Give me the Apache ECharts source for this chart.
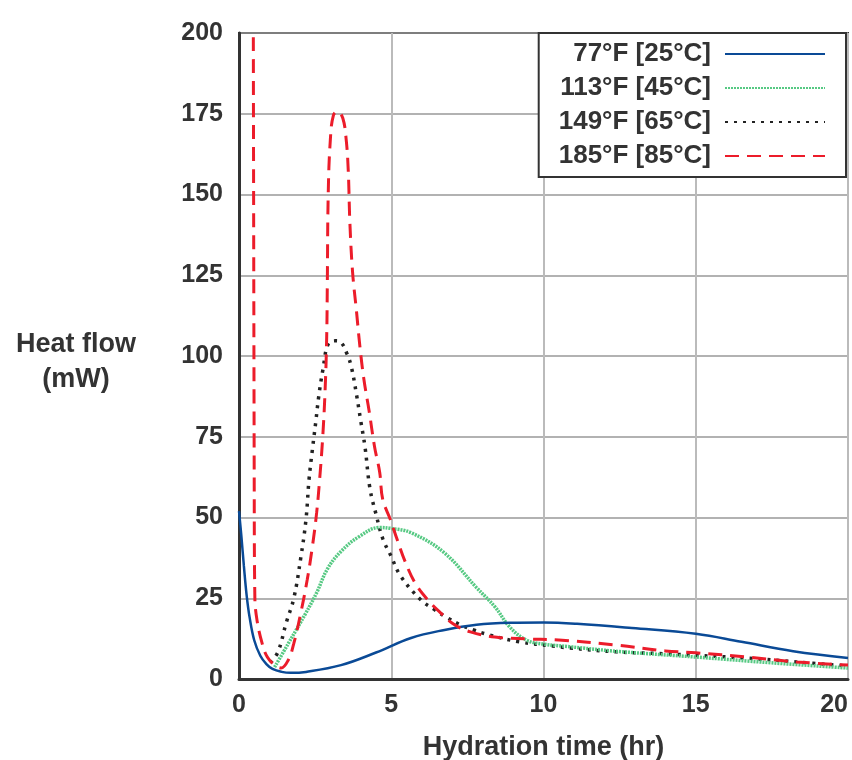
<!DOCTYPE html>
<html>
<head>
<meta charset="utf-8">
<script src="https://cdn.jsdelivr.net/npm/echarts@6/dist/echarts.min.js"></script>
<style>
html,body{margin:0;padding:0;background:#fff;}
#chart{width:852px;height:760px;}
</style>
</head>
<body>
<div id="chart"></div>
<script>
var seriesNames = ['77°F [25°C]', '113°F [45°C]', '149°F [65°C]', '185°F [85°C]'];
var xTicks = [0, 5, 10, 15, 20];
var yTicks = [0, 25, 50, 75, 100, 125, 150, 175, 200];

var s25 = [[0,52],[0.08,44],[0.16,35],[0.25,26],[0.35,19],[0.5,12],[0.7,7.2],[0.9,4.6],[1.1,3.1],[1.4,2.2],[1.7,1.9],[2.2,2.2],[3.35,4.3],[4.5,8.2],[5.65,12.7],[6.75,15.2],[7.8,16.8],[8.9,17.4],[10,17.5],[11.1,17.1],[12.9,15.8],[15,14],[16.5,11.5],[18.2,8.6],[20,6.5]];
var s45 = [[1.17,3.7],[1.62,11],[2.2,20.5],[2.55,26.7],[2.9,34],[3.35,39.5],[3.93,44],[4.62,46.9],[5,46.6],[5.65,45.3],[6.75,39],[7.8,28.3],[8.4,22.4],[8.9,16],[9.45,12],[10,10.8],[10.85,10],[12.5,8.5],[15,6.8],[17.5,5],[20,3.4]];
var s65 = [[1.03,5],[1.28,8.4],[1.55,17.4],[1.8,25],[2.03,37.6],[2.2,49.4],[2.3,61.8],[2.41,71],[2.52,79.5],[2.62,87.6],[2.76,96],[2.93,103.7],[3.17,104.7],[3.34,104.3],[3.55,100.6],[3.69,96.6],[3.86,88],[4.0,79.8],[4.14,71.7],[4.3,59],[4.5,51],[4.72,43.5],[5.0,37.9],[5.3,32],[5.97,24.5],[6.43,21.4],[6.85,18.9],[7.27,16.8],[7.7,15.2],[8.2,13.7],[9.2,11.5],[10.3,10.2],[10.85,9.6],[12.4,8.4],[14,7.8],[16.6,6.5],[18.3,5.3],[20,4]];
var s85 = [[0.46,260],[0.5,60],[0.52,25.5],[0.59,18.3],[0.76,11],[0.93,6.8],[1.17,4.3],[1.38,3.4],[1.62,5.9],[1.8,11],[2.03,20.5],[2.24,30.7],[2.41,41],[2.55,51.5],[2.65,62],[2.75,75],[2.83,90],[2.88,106],[2.9,122],[2.93,150],[3.0,167],[3.1,174.5],[3.24,175.7],[3.41,173.6],[3.52,167],[3.59,157],[3.64,141.6],[3.73,126],[3.86,113.7],[3.97,103],[4.1,92.9],[4.28,82.6],[4.45,72],[4.62,64],[4.72,55.6],[4.97,49.4],[5.2,43],[5.45,36.5],[5.78,29.8],[6.2,24.5],[6.62,20.5],[7.08,16.8],[7.6,14.6],[8.4,13],[9.45,12.4],[10.5,12.1],[12.4,10.5],[14,8.7],[15,8.1],[16.7,6.8],[18.3,5.3],[20,4.3]];

var FONT = '"Liberation Sans", Arial, sans-serif';
var TXT = '#333';

var chart = echarts.init(document.getElementById('chart'), null, {renderer: 'canvas'});

function mkSeries(name, data, color, width, type, z) {
  return {
    name: name, type: 'line', data: data, smooth: 0.4,
    symbol: 'none', showSymbol: false, clip: true, z: z,
    lineStyle: {color: color, width: width, type: type, cap: 'butt'},
    itemStyle: {color: color},
    animation: false
  };
}

var option = {
  animation: false,
  backgroundColor: '#fff',
  grid: {left: 239, right: 4, top: 33, bottom: 81, show: true, borderColor: '#333', borderWidth: 2, backgroundColor: 'transparent', containLabel: false, outerBoundsMode: 'none'},
  xAxis: {
    type: 'value', min: xTicks[0], max: xTicks[xTicks.length - 1], interval: 5,
    name: 'Hydration time (hr)', nameLocation: 'middle', nameGap: 55,
    nameTextStyle: {fontFamily: FONT, fontSize: 27, fontWeight: 'bold', color: TXT},
    axisLine: {show: true, lineStyle: {color: '#333', width: 3}},
    axisTick: {show: false},
    axisLabel: {fontFamily: FONT, fontSize: 25, fontWeight: 'bold', color: TXT, margin: 14, alignMaxLabel: 'right'},
    splitLine: {show: true, lineStyle: {color: '#bbb', width: 2}}
  },
  yAxis: {
    type: 'value', min: yTicks[0], max: yTicks[yTicks.length - 1], interval: 25,
    axisLine: {show: true, lineStyle: {color: '#333', width: 3}},
    axisTick: {show: false},
    axisLabel: {fontFamily: FONT, fontSize: 25, fontWeight: 'bold', color: TXT, margin: 16},
    splitLine: {show: true, lineStyle: {color: '#999', width: 1.5}}
  },
  legend: {
    show: true, orient: 'vertical', align: 'right', right: 6, top: 33,
    padding: [7, 20, 7, 20], itemGap: 6, itemWidth: 100, itemHeight: 14,
    borderColor: '#333', borderWidth: 2, backgroundColor: '#fff',
    itemStyle: {opacity: 0, borderWidth: 0},
    textStyle: {fontFamily: FONT, fontSize: 26, fontWeight: 'bold', color: TXT, lineHeight: 28, padding: [0, 9, 0, 0]},
    data: seriesNames
  },
  graphic: [
    {type: 'text', x: 76, y: 345, style: {text: 'Heat flow', fontFamily: FONT, fontSize: 27, fontWeight: 'bold', fill: TXT, align: 'center', verticalAlign: 'middle'}},
    {type: 'text', x: 76, y: 380, style: {text: '(mW)', fontFamily: FONT, fontSize: 27, fontWeight: 'bold', fill: TXT, align: 'center', verticalAlign: 'middle'}}
  ],
  series: [
    mkSeries(seriesNames[0], s25, '#0a4a96', 2.5, 'solid', 4),
    mkSeries(seriesNames[1], s45, '#56c983', 3.5, [2, 1], 3),
    mkSeries(seriesNames[2], s65, '#222222', 3.5, [3, 6], 2),
    mkSeries(seriesNames[3], s85, '#ec1c2a', 3, [14, 8], 5)
  ]
};
chart.setOption(option);
</script>
</body>
</html>
